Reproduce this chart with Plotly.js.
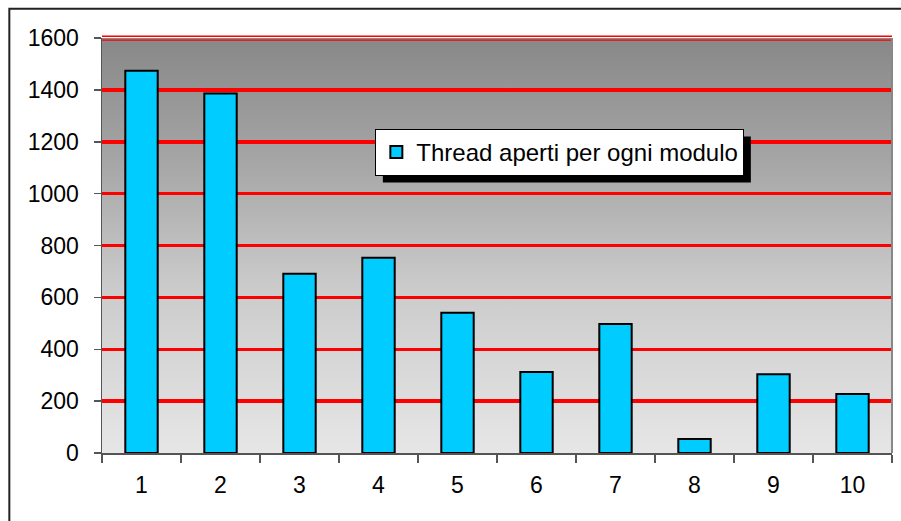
<!DOCTYPE html>
<html>
<head>
<meta charset="utf-8">
<script src="https://cdn.plot.ly/plotly-3.0.1.min.js"></script>
<style>
  html, body { margin: 0; padding: 0; background: #ffffff; }
  #chart { width: 901px; height: 521px; }
</style>
</head>
<body>
<div id="chart"></div>
<script>
const categories = ['1', '2', '3', '4', '5', '6', '7', '8', '9', '10'];
const threadValues = [1474, 1386, 691, 753, 541, 312, 497, 54, 304, 227];
const seriesName = 'Thread aperti per ogni modulo';
const yTickValues = [0, 200, 400, 600, 800, 1000, 1200, 1400, 1600];

const gradientSvg =
  '<svg xmlns="http://www.w3.org/2000/svg" width="100" height="100" preserveAspectRatio="none">' +
  '<defs><linearGradient id="g" x1="0" y1="0" x2="0" y2="1">' +
  '<stop offset="0" stop-color="#888888"/>' +
  '<stop offset="0.3" stop-color="#a6a6a6"/>' +
  '<stop offset="0.6" stop-color="#cbcbcb"/>' +
  '<stop offset="1" stop-color="#e6e6e6"/>' +
  '</linearGradient></defs>' +
  '<rect width="100" height="100" fill="url(#g)"/></svg>';
const gradientSrc = 'data:image/svg+xml;base64,' + btoa(gradientSvg);

const trace = {
  type: 'bar',
  x: categories,
  y: threadValues,
  name: seriesName,
  showlegend: true,
  marker: {
    color: '#00ccff',
    line: { color: '#000000', width: 2 }
  },
  width: 0.41,
  hoverinfo: 'x+y'
};

const M = { l: 102, r: 9, t: 38, b: 68 };
const W = 901, H = 521;
const plotW = W - M.l - M.r, plotH = H - M.t - M.b;

const baseShapes = [
  { type: 'line', xref: 'paper', yref: 'paper', x0: 1, x1: 1, y0: 0, y1: 1,
    line: { color: '#888888', width: 2 } },
  { type: 'line', xref: 'paper', yref: 'paper', x0: 0, x1: 1, y0: 1.004, y1: 1.004,
    line: { color: '#ff0000', width: 1.5 }, layer: 'below' },
  { type: 'line', xref: 'paper', yref: 'paper', x0: 0, x1: 1, y0: 0.995, y1: 0.995,
    line: { color: '#ff0000', width: 1.2 }, layer: 'below' },
  { type: 'rect', xref: 'paper', yref: 'paper',
    x0: -0.1173, x1: 1.05, y0: -0.3, y1: 1.0706,
    fillcolor: 'rgba(0,0,0,0)', line: { color: '#222222', width: 2 } }
];

const layout = {
  width: W,
  height: H,
  margin: M,
  paper_bgcolor: '#ffffff',
  plot_bgcolor: 'rgba(0,0,0,0)',
  font: { family: 'Liberation Sans, Arial, sans-serif', size: 23, color: '#000000' },
  showlegend: true,
  legend: {
    x: 0.346, y: 0.781, xanchor: 'left', yanchor: 'top',
    bgcolor: '#ffffff', bordercolor: '#000000', borderwidth: 1,
    itemwidth: 30,
    font: { family: 'Liberation Sans, Arial, sans-serif', size: 24, color: '#000000' }
  },
  xaxis: {
    type: 'category',
    categoryorder: 'array',
    categoryarray: categories,
    tickson: 'boundaries',
    ticks: 'outside',
    ticklen: 8,
    tickwidth: 1.5,
    tickcolor: '#555555',
    showline: true,
    linecolor: '#555555',
    linewidth: 1.5,
    showgrid: false,
    zeroline: false,
    tickfont: { size: 23 },
    ticklabelstandoff: 11
  },
  yaxis: {
    range: [0, 1600],
    tickvals: yTickValues,
    ticktext: yTickValues.map(String),
    ticks: 'outside',
    ticklen: 7,
    tickwidth: 1.5,
    tickcolor: '#555555',
    showline: true,
    linecolor: '#555555',
    linewidth: 1.5,
    showgrid: true,
    gridcolor: '#ff0000',
    gridwidth: 3.5,
    zeroline: false,
    tickfont: { size: 23 },
    ticklabelstandoff: 10
  },
  images: [{
    source: gradientSrc,
    xref: 'paper', yref: 'paper',
    x: 0, y: 1, sizex: 1, sizey: 1,
    xanchor: 'left', yanchor: 'top',
    sizing: 'stretch',
    layer: 'below'
  }],
  shapes: baseShapes
};

Plotly.newPlot('chart', [trace], layout, { displayModeBar: false, staticPlot: true }).then(function (gd) {
  const bg = gd.querySelector('.legend .bg');
  if (!bg) return;
  const svgRect = gd.querySelector('.main-svg').getBoundingClientRect();
  const r = bg.getBoundingClientRect();
  const off = 7;
  const left = r.left - svgRect.left + off, right = r.right - svgRect.left + off;
  const top = r.top - svgRect.top + off, bottom = r.bottom - svgRect.top + off;
  const shadow = {
    type: 'rect', xref: 'paper', yref: 'paper',
    x0: (left - M.l) / plotW, x1: (right - M.l) / plotW,
    y0: (H - M.b - bottom) / plotH, y1: (H - M.b - top) / plotH,
    fillcolor: '#000000', line: { width: 0 }, layer: 'above'
  };
  return Plotly.relayout(gd, { shapes: baseShapes.concat([shadow]) });
});
</script>
</body>
</html>
